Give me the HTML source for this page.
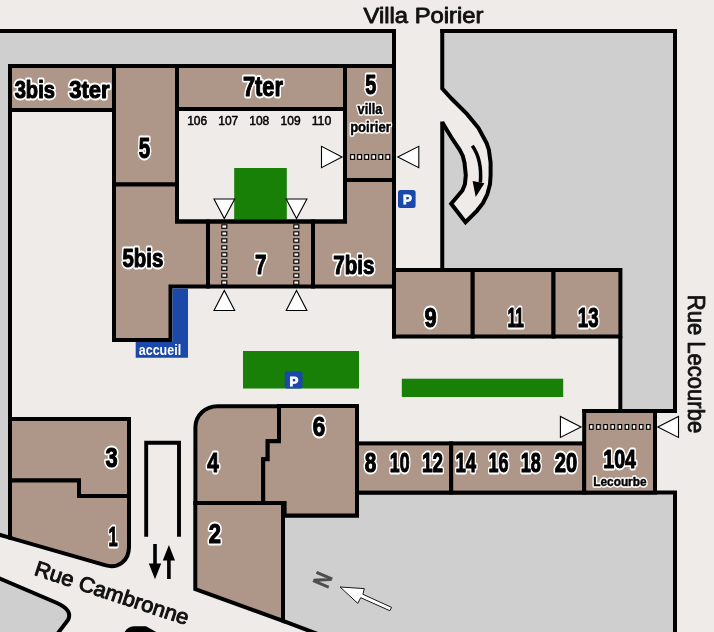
<!DOCTYPE html>
<html>
<head>
<meta charset="utf-8">
<title>Plan</title>
<style>
html,body{margin:0;padding:0;background:#efebe8;}
body{width:714px;height:632px;overflow:hidden;font-family:"Liberation Sans",sans-serif;}
svg{display:block;will-change:transform;}
.b{fill:#ae9689;stroke:#000;stroke-width:4;stroke-linejoin:miter;}
.g{fill:#cfcfcf;}
.gs{fill:#cfcfcf;stroke:#000;stroke-width:4;stroke-linejoin:miter;}
.l{fill:none;stroke:#000;stroke-width:4;stroke-linecap:butt;stroke-linejoin:miter;}
.gr{fill:#188007;}
.bl{fill:#1a49a9;}
.t{fill:#fff;stroke:#000;stroke-width:1.1;stroke-linejoin:miter;}
.st{font-family:"Liberation Sans",sans-serif;font-weight:normal;font-size:23px;fill:#111;stroke:#111;stroke-width:0.85;stroke-linejoin:round;}
</style>
</head>
<body>
<svg width="714" height="632" viewBox="0 0 714 632">
<rect x="0" y="0" width="714" height="632" fill="#efebe8"/>

<!-- grey zones -->
<path class="g" d="M0,31 H394 V66 H10 V537.8 L0,534.9 Z"/>
<path class="g" d="M442.25,31 H675 V411 H620.3 V270 H442.25 V122.4 L447.2,130.6 L451.1,137 L459.5,149.6 L462.8,155.9 L464.5,162.7 L465.8,175.3 L464.9,184.2 L462.4,190.5 L451.2,203.8 L465.5,222.2 L476.9,210.8 L482.9,203.2 L487.3,194.3 L490,184.2 L490.6,175.3 L490.6,162.7 L488.9,150 L486.7,143.3 L478.5,128.1 L467.1,114.2 L451.9,99 L442.25,88.5 Z"/>
<path class="l" style="stroke-miterlimit:3" d="M442.25,29 V88.5 L451.9,99 L467.1,114.2 L478.5,128.1 L486.7,143.3 L488.9,150 L490.6,162.7 L490.6,175.3 L490,184.2 L487.3,194.3 L482.9,203.2 L476.9,210.8 L465.5,222.2 L451.2,203.8 L462.4,190.5 L464.9,184.2 L465.8,175.3 L464.5,162.7 L462.8,155.9 L459.5,149.6 L451.1,137 L447.2,130.6 L442.25,122.4"/>
<path class="l" d="M442.25,121.5 V272"/>
<path class="l" d="M440.25,31 H675 V411"/>
<path class="l" d="M620.3,336 V411"/>
<path class="gs" d="M283,515.4 H357 V492.6 H675 V640 H333.5 L283,620.8 Z"/>
<path class="gs" d="M-5,576.5 L57,603 Q73,610 68,620 L58,633 L54,640 H-5 Z"/>
<path d="M124.3,633 Q126.5,627 134,626.3 L146,626.3 L158,633 Z" fill="#000"/>

<!-- buildings top block -->
<rect class="b" x="10" y="66" width="104" height="44"/>
<rect class="b" x="114" y="66" width="63" height="118.5"/>
<rect class="b" x="177" y="66" width="168" height="43"/>
<rect class="b" x="345" y="66" width="49" height="114"/>
<path class="b" d="M114,184.5 H177 V221.5 H208 V286.5 H170.5 V340 H114 Z"/>
<rect class="b" x="208" y="221.5" width="105" height="65"/>
<path class="b" d="M345,180 H394 V286.5 H313 V221.5 H345 Z"/>
<rect class="b" x="394" y="270" width="78.7" height="66.5"/>
<rect class="b" x="472.7" y="270" width="80.8" height="66.5"/>
<rect class="b" x="553.5" y="270" width="66.9" height="66.5"/>

<!-- buildings bottom -->
<path class="b" d="M10,419 H129 V496 H79 V480.4 H10 Z"/>
<path class="b" d="M10,480.4 H79 V496 H129 V547 C129,560.9 118.2,569.05 105,565.2 L10,537.8 Z"/>
<path class="b" d="M195.4,503 V427 A22,21 0 0 1 217.4,406.2 H279 V441.3 H267.7 V459.3 H263.2 V503 Z"/>
<path class="b" d="M279,406 H357 V515.4 H284.6 V503 H263.2 V459.3 H267.7 V441.3 H279 Z"/>
<path class="b" d="M195.3,503 H283 V620.8 L195.3,589.2 Z"/>
<rect class="b" x="357" y="443.4" width="94.2" height="49.2"/>
<rect class="b" x="451.2" y="443.4" width="133" height="49.2"/>
<rect class="b" x="584.2" y="411" width="70.8" height="81.6"/>

<!-- lines -->
<path class="l" d="M0,31 H396"/>
<path class="l" d="M394,29 V338.5"/>
<path class="l" d="M10,66 V538"/>
<path class="l" d="M-5,533.45 L12,538.4"/>
<path class="l" d="M582.2,411 H677"/>
<path class="l" d="M146.2,536.8 V442.8 H179 V536.8" style="stroke-width:3.9"/>

<!-- in/out arrows -->
<path d="M153.2,544 H156.8 V563.5 H161.2 L155,579.3 L148.8,563.5 H153.2 Z" fill="#000"/>
<path d="M167.1,579 H170.7 V560.4 H175 L168.9,545 L162.8,560.4 H167.1 Z" fill="#000"/>

<!-- curved arrow -->
<path d="M472.3,145.8 C477.5,153 481.6,166 480.4,182.5" fill="none" stroke="#000" stroke-width="3.5"/>
<path d="M472.6,181 L484.4,183.2 L475.7,197 Z" fill="#000"/>

<!-- green -->
<rect class="gr" x="234.2" y="168" width="52.6" height="52"/>
<rect class="gr" x="243" y="351" width="116" height="37.5"/>
<rect class="gr" x="401.8" y="378.7" width="161.4" height="18.3"/>
<path class="l" d="M175,221.5 H347"/>

<!-- blue -->
<path class="bl" d="M172.5,288.5 H188 V357.8 H135.7 V342 H172.5 Z"/>
<rect class="bl" x="398" y="190" width="17.6" height="17.9" rx="2.5"/>
<rect class="bl" x="284.7" y="371.3" width="17.8" height="17.2" rx="2"/>

<!-- dotted lines -->
<g fill="#fff" stroke="#000" stroke-width="1.15">
<rect x="350.60" y="154.65" width="3.8" height="4.7"/>
<rect x="357.66" y="154.65" width="3.8" height="4.7"/>
<rect x="364.72" y="154.65" width="3.8" height="4.7"/>
<rect x="371.78" y="154.65" width="3.8" height="4.7"/>
<rect x="378.84" y="154.65" width="3.8" height="4.7"/>
<rect x="385.90" y="154.65" width="3.8" height="4.7"/>
<rect x="589.55" y="424.60" width="3.5" height="4.7"/>
<rect x="596.68" y="424.60" width="3.5" height="4.7"/>
<rect x="603.81" y="424.60" width="3.5" height="4.7"/>
<rect x="610.94" y="424.60" width="3.5" height="4.7"/>
<rect x="618.07" y="424.60" width="3.5" height="4.7"/>
<rect x="625.20" y="424.60" width="3.5" height="4.7"/>
<rect x="632.33" y="424.60" width="3.5" height="4.7"/>
<rect x="639.46" y="424.60" width="3.5" height="4.7"/>
<rect x="646.59" y="424.60" width="3.5" height="4.7"/>
<rect x="221.80" y="224.85" width="5.0" height="3.4"/>
<rect x="221.80" y="231.85" width="5.0" height="3.4"/>
<rect x="221.80" y="238.85" width="5.0" height="3.4"/>
<rect x="221.80" y="245.85" width="5.0" height="3.4"/>
<rect x="221.80" y="252.85" width="5.0" height="3.4"/>
<rect x="221.80" y="259.85" width="5.0" height="3.4"/>
<rect x="221.80" y="266.85" width="5.0" height="3.4"/>
<rect x="221.80" y="273.85" width="5.0" height="3.4"/>
<rect x="221.80" y="280.85" width="5.0" height="3.4"/>
<rect x="293.80" y="224.85" width="5.0" height="3.4"/>
<rect x="293.80" y="231.85" width="5.0" height="3.4"/>
<rect x="293.80" y="238.85" width="5.0" height="3.4"/>
<rect x="293.80" y="245.85" width="5.0" height="3.4"/>
<rect x="293.80" y="252.85" width="5.0" height="3.4"/>
<rect x="293.80" y="259.85" width="5.0" height="3.4"/>
<rect x="293.80" y="266.85" width="5.0" height="3.4"/>
<rect x="293.80" y="273.85" width="5.0" height="3.4"/>
<rect x="293.80" y="280.85" width="5.0" height="3.4"/>
</g>

<!-- triangles -->
<g class="t">
<path d="M214,199 H234.7 L224.3,218.5 Z"/>
<path d="M286.2,199 H306.9 L296.5,218.5 Z"/>
<path d="M214,310.5 H234.7 L224.3,290.5 Z"/>
<path d="M286.2,310.5 H306.9 L296.5,290.5 Z"/>
<path d="M321.5,146.3 V167.7 L342,157 Z"/>
<path d="M418.8,146.3 V167.7 L397.8,157 Z"/>
<path d="M560.4,416.4 V437.4 L581,426.9 Z"/>
<path d="M678.5,416.4 V437.4 L657.8,426.9 Z"/>
</g>

<!-- north arrow -->
<path d="M340.1,587 L364.3,588.6 L362.9,594.3 L391.6,607.4 L389.8,610.7 L360.7,597.7 L357.8,603.4 Z" fill="#fff" stroke="#000" stroke-width="0.9" stroke-linejoin="miter"/>
<text transform="translate(322.8,580) rotate(-67)" text-anchor="middle" y="8" style="font-family:'Liberation Sans',sans-serif;font-weight:bold;font-size:24px;fill:#4c4c4c;stroke:#4c4c4c;stroke-width:0.5" textLength="14" lengthAdjust="spacingAndGlyphs">N</text>

<!-- street names -->
<text class="st" x="363.5" y="22.7" textLength="120" lengthAdjust="spacingAndGlyphs" style="font-size:21.9px">Villa Poirier</text>
<text class="st" transform="translate(688.2,294.8) rotate(90)" textLength="138.4" lengthAdjust="spacingAndGlyphs" style="font-size:24px">Rue Lecourbe</text>
<text class="st" transform="translate(33.2,574.6) rotate(18.3)" textLength="161" lengthAdjust="spacingAndGlyphs" style="font-size:21.2px;stroke-width:1.0">Rue Cambronne</text>

<g font-family="Liberation Sans, sans-serif" opacity="0.999">
<text x="14.70" y="97.90" textLength="40.20" lengthAdjust="spacingAndGlyphs" font-size="23.58" font-weight="bold" fill="#fff" stroke="#fff" stroke-width="4.9" stroke-linejoin="round">3bis</text>
<text x="69.20" y="97.90" textLength="40.42" lengthAdjust="spacingAndGlyphs" font-size="24.66" font-weight="bold" fill="#fff" stroke="#fff" stroke-width="4.9" stroke-linejoin="round">3ter</text>
<text x="138.75" y="158.25" textLength="11.42" lengthAdjust="spacingAndGlyphs" font-size="28.67" font-weight="bold" fill="#fff" stroke="#fff" stroke-width="4.9" stroke-linejoin="round">5</text>
<text x="242.90" y="96.35" textLength="40.10" lengthAdjust="spacingAndGlyphs" font-size="27.81" font-weight="bold" fill="#fff" stroke="#fff" stroke-width="4.9" stroke-linejoin="round">7ter</text>
<text x="365.15" y="94.30" textLength="11.06" lengthAdjust="spacingAndGlyphs" font-size="27.64" font-weight="bold" fill="#fff" stroke="#fff" stroke-width="4.9" stroke-linejoin="round">5</text>
<text x="122.50" y="266.95" textLength="40.85" lengthAdjust="spacingAndGlyphs" font-size="26.16" font-weight="bold" fill="#fff" stroke="#fff" stroke-width="4.9" stroke-linejoin="round">5bis</text>
<text x="254.95" y="274.10" textLength="11.52" lengthAdjust="spacingAndGlyphs" font-size="27.72" font-weight="bold" fill="#fff" stroke="#fff" stroke-width="4.9" stroke-linejoin="round">7</text>
<text x="333.35" y="274.25" textLength="41.10" lengthAdjust="spacingAndGlyphs" font-size="26.22" font-weight="bold" fill="#fff" stroke="#fff" stroke-width="4.9" stroke-linejoin="round">7bis</text>
<text x="424.60" y="326.95" textLength="12.14" lengthAdjust="spacingAndGlyphs" font-size="27.29" font-weight="bold" fill="#fff" stroke="#fff" stroke-width="4.9" stroke-linejoin="round">9</text>
<text x="507.50" y="327.20" textLength="16.27" lengthAdjust="spacingAndGlyphs" font-size="27.89" font-weight="bold" fill="#fff" stroke="#fff" stroke-width="4.9" stroke-linejoin="round">11</text>
<text x="577.85" y="326.95" textLength="20.75" lengthAdjust="spacingAndGlyphs" font-size="27.29" font-weight="bold" fill="#fff" stroke="#fff" stroke-width="4.9" stroke-linejoin="round">13</text>
<text x="105.55" y="467.25" textLength="12.18" lengthAdjust="spacingAndGlyphs" font-size="27.51" font-weight="bold" fill="#fff" stroke="#fff" stroke-width="4.9" stroke-linejoin="round">3</text>
<text x="108.40" y="545.50" textLength="9.16" lengthAdjust="spacingAndGlyphs" font-size="28.12" font-weight="bold" fill="#fff" stroke="#fff" stroke-width="4.9" stroke-linejoin="round">1</text>
<text x="207.25" y="471.50" textLength="11.54" lengthAdjust="spacingAndGlyphs" font-size="27.95" font-weight="bold" fill="#fff" stroke="#fff" stroke-width="4.9" stroke-linejoin="round">4</text>
<text x="312.85" y="436.25" textLength="12.46" lengthAdjust="spacingAndGlyphs" font-size="27.06" font-weight="bold" fill="#fff" stroke="#fff" stroke-width="4.9" stroke-linejoin="round">6</text>
<text x="208.75" y="543.00" textLength="12.21" lengthAdjust="spacingAndGlyphs" font-size="27.36" font-weight="bold" fill="#fff" stroke="#fff" stroke-width="4.9" stroke-linejoin="round">2</text>
<text x="364.65" y="471.85" textLength="11.53" lengthAdjust="spacingAndGlyphs" font-size="26.84" font-weight="bold" fill="#fff" stroke="#fff" stroke-width="4.9" stroke-linejoin="round">8</text>
<text x="389.80" y="471.85" textLength="19.70" lengthAdjust="spacingAndGlyphs" font-size="26.84" font-weight="bold" fill="#fff" stroke="#fff" stroke-width="4.9" stroke-linejoin="round">10</text>
<text x="422.00" y="472.10" textLength="21.01" lengthAdjust="spacingAndGlyphs" font-size="27.42" font-weight="bold" fill="#fff" stroke="#fff" stroke-width="4.9" stroke-linejoin="round">12</text>
<text x="455.45" y="472.10" textLength="20.64" lengthAdjust="spacingAndGlyphs" font-size="27.72" font-weight="bold" fill="#fff" stroke="#fff" stroke-width="4.9" stroke-linejoin="round">14</text>
<text x="488.50" y="471.85" textLength="19.97" lengthAdjust="spacingAndGlyphs" font-size="26.84" font-weight="bold" fill="#fff" stroke="#fff" stroke-width="4.9" stroke-linejoin="round">16</text>
<text x="520.75" y="471.85" textLength="20.20" lengthAdjust="spacingAndGlyphs" font-size="26.84" font-weight="bold" fill="#fff" stroke="#fff" stroke-width="4.9" stroke-linejoin="round">18</text>
<text x="554.75" y="471.85" textLength="22.44" lengthAdjust="spacingAndGlyphs" font-size="26.84" font-weight="bold" fill="#fff" stroke="#fff" stroke-width="4.9" stroke-linejoin="round">20</text>
<text x="603.25" y="467.85" textLength="32.67" lengthAdjust="spacingAndGlyphs" font-size="26.67" font-weight="bold" fill="#fff" stroke="#fff" stroke-width="4.9" stroke-linejoin="round">104</text>
<text x="357.60" y="113.80" textLength="24.88" lengthAdjust="spacingAndGlyphs" font-size="14.40" font-weight="bold" fill="#fff" stroke="#fff" stroke-width="3.4" stroke-linejoin="round">villa</text>
<text x="350.15" y="131.90" textLength="40.59" lengthAdjust="spacingAndGlyphs" font-size="14.40" font-weight="bold" fill="#fff" stroke="#fff" stroke-width="3.4" stroke-linejoin="round">poirier</text>
<text x="593.25" y="486.25" textLength="53.29" lengthAdjust="spacingAndGlyphs" font-size="13.00" font-weight="bold" fill="#fff" stroke="#fff" stroke-width="3.4" stroke-linejoin="round">Lecourbe</text>
<text x="14.70" y="97.90" textLength="40.20" lengthAdjust="spacingAndGlyphs" font-size="23.58" font-weight="bold" fill="#000" stroke="#000" stroke-width="1.1" stroke-linejoin="round">3bis</text>
<text x="69.20" y="97.90" textLength="40.42" lengthAdjust="spacingAndGlyphs" font-size="24.66" font-weight="bold" fill="#000" stroke="#000" stroke-width="1.1" stroke-linejoin="round">3ter</text>
<text x="138.75" y="158.25" textLength="11.42" lengthAdjust="spacingAndGlyphs" font-size="28.67" font-weight="bold" fill="#000" stroke="#000" stroke-width="1.1" stroke-linejoin="round">5</text>
<text x="242.90" y="96.35" textLength="40.10" lengthAdjust="spacingAndGlyphs" font-size="27.81" font-weight="bold" fill="#000" stroke="#000" stroke-width="1.1" stroke-linejoin="round">7ter</text>
<text x="365.15" y="94.30" textLength="11.06" lengthAdjust="spacingAndGlyphs" font-size="27.64" font-weight="bold" fill="#000" stroke="#000" stroke-width="1.1" stroke-linejoin="round">5</text>
<text x="122.50" y="266.95" textLength="40.85" lengthAdjust="spacingAndGlyphs" font-size="26.16" font-weight="bold" fill="#000" stroke="#000" stroke-width="1.1" stroke-linejoin="round">5bis</text>
<text x="254.95" y="274.10" textLength="11.52" lengthAdjust="spacingAndGlyphs" font-size="27.72" font-weight="bold" fill="#000" stroke="#000" stroke-width="1.1" stroke-linejoin="round">7</text>
<text x="333.35" y="274.25" textLength="41.10" lengthAdjust="spacingAndGlyphs" font-size="26.22" font-weight="bold" fill="#000" stroke="#000" stroke-width="1.1" stroke-linejoin="round">7bis</text>
<text x="424.60" y="326.95" textLength="12.14" lengthAdjust="spacingAndGlyphs" font-size="27.29" font-weight="bold" fill="#000" stroke="#000" stroke-width="1.1" stroke-linejoin="round">9</text>
<text x="507.50" y="327.20" textLength="16.27" lengthAdjust="spacingAndGlyphs" font-size="27.89" font-weight="bold" fill="#000" stroke="#000" stroke-width="1.1" stroke-linejoin="round">11</text>
<text x="577.85" y="326.95" textLength="20.75" lengthAdjust="spacingAndGlyphs" font-size="27.29" font-weight="bold" fill="#000" stroke="#000" stroke-width="1.1" stroke-linejoin="round">13</text>
<text x="105.55" y="467.25" textLength="12.18" lengthAdjust="spacingAndGlyphs" font-size="27.51" font-weight="bold" fill="#000" stroke="#000" stroke-width="1.1" stroke-linejoin="round">3</text>
<text x="108.40" y="545.50" textLength="9.16" lengthAdjust="spacingAndGlyphs" font-size="28.12" font-weight="bold" fill="#000" stroke="#000" stroke-width="1.1" stroke-linejoin="round">1</text>
<text x="207.25" y="471.50" textLength="11.54" lengthAdjust="spacingAndGlyphs" font-size="27.95" font-weight="bold" fill="#000" stroke="#000" stroke-width="1.1" stroke-linejoin="round">4</text>
<text x="312.85" y="436.25" textLength="12.46" lengthAdjust="spacingAndGlyphs" font-size="27.06" font-weight="bold" fill="#000" stroke="#000" stroke-width="1.1" stroke-linejoin="round">6</text>
<text x="208.75" y="543.00" textLength="12.21" lengthAdjust="spacingAndGlyphs" font-size="27.36" font-weight="bold" fill="#000" stroke="#000" stroke-width="1.1" stroke-linejoin="round">2</text>
<text x="364.65" y="471.85" textLength="11.53" lengthAdjust="spacingAndGlyphs" font-size="26.84" font-weight="bold" fill="#000" stroke="#000" stroke-width="1.1" stroke-linejoin="round">8</text>
<text x="389.80" y="471.85" textLength="19.70" lengthAdjust="spacingAndGlyphs" font-size="26.84" font-weight="bold" fill="#000" stroke="#000" stroke-width="1.1" stroke-linejoin="round">10</text>
<text x="422.00" y="472.10" textLength="21.01" lengthAdjust="spacingAndGlyphs" font-size="27.42" font-weight="bold" fill="#000" stroke="#000" stroke-width="1.1" stroke-linejoin="round">12</text>
<text x="455.45" y="472.10" textLength="20.64" lengthAdjust="spacingAndGlyphs" font-size="27.72" font-weight="bold" fill="#000" stroke="#000" stroke-width="1.1" stroke-linejoin="round">14</text>
<text x="488.50" y="471.85" textLength="19.97" lengthAdjust="spacingAndGlyphs" font-size="26.84" font-weight="bold" fill="#000" stroke="#000" stroke-width="1.1" stroke-linejoin="round">16</text>
<text x="520.75" y="471.85" textLength="20.20" lengthAdjust="spacingAndGlyphs" font-size="26.84" font-weight="bold" fill="#000" stroke="#000" stroke-width="1.1" stroke-linejoin="round">18</text>
<text x="554.75" y="471.85" textLength="22.44" lengthAdjust="spacingAndGlyphs" font-size="26.84" font-weight="bold" fill="#000" stroke="#000" stroke-width="1.1" stroke-linejoin="round">20</text>
<text x="603.25" y="467.85" textLength="32.67" lengthAdjust="spacingAndGlyphs" font-size="26.67" font-weight="bold" fill="#000" stroke="#000" stroke-width="1.1" stroke-linejoin="round">104</text>
<text x="357.60" y="113.80" textLength="24.88" lengthAdjust="spacingAndGlyphs" font-size="14.40" font-weight="bold" fill="#000" stroke="#000" stroke-width="0.45" stroke-linejoin="round">villa</text>
<text x="350.15" y="131.90" textLength="40.59" lengthAdjust="spacingAndGlyphs" font-size="14.40" font-weight="bold" fill="#000" stroke="#000" stroke-width="0.45" stroke-linejoin="round">poirier</text>
<text x="593.25" y="486.25" textLength="53.29" lengthAdjust="spacingAndGlyphs" font-size="13.00" font-weight="bold" fill="#000" stroke="#000" stroke-width="0.45" stroke-linejoin="round">Lecourbe</text>
<text x="187.15" y="124.75" textLength="20.06" lengthAdjust="spacingAndGlyphs" font-size="13.21" font-weight="normal" fill="#000" stroke="#000" stroke-width="0.5" stroke-linejoin="round">106</text>
<text x="218.25" y="124.75" textLength="20.06" lengthAdjust="spacingAndGlyphs" font-size="13.21" font-weight="normal" fill="#000" stroke="#000" stroke-width="0.5" stroke-linejoin="round">107</text>
<text x="249.25" y="124.75" textLength="20.06" lengthAdjust="spacingAndGlyphs" font-size="13.21" font-weight="normal" fill="#000" stroke="#000" stroke-width="0.5" stroke-linejoin="round">108</text>
<text x="280.60" y="124.75" textLength="20.06" lengthAdjust="spacingAndGlyphs" font-size="13.21" font-weight="normal" fill="#000" stroke="#000" stroke-width="0.5" stroke-linejoin="round">109</text>
<text x="311.70" y="124.75" textLength="19.60" lengthAdjust="spacingAndGlyphs" font-size="13.21" font-weight="normal" fill="#000" stroke="#000" stroke-width="0.5" stroke-linejoin="round">110</text>
</g>
<text x="138.8" y="354.9" textLength="42.3" lengthAdjust="spacingAndGlyphs" style="font-family:'Liberation Sans',sans-serif;font-weight:bold;font-size:15.3px;fill:#fff">accueil</text>
<text x="403.1" y="204.3" style="font-family:'Liberation Sans',sans-serif;font-weight:bold;font-size:13.2px;fill:#fff;stroke:#fff;stroke-width:0.8">P</text>
<text x="289.6" y="386.3" style="font-family:'Liberation Sans',sans-serif;font-weight:bold;font-size:13.2px;fill:#fff;stroke:#fff;stroke-width:0.8">P</text>
</svg>
</body>
</html>
